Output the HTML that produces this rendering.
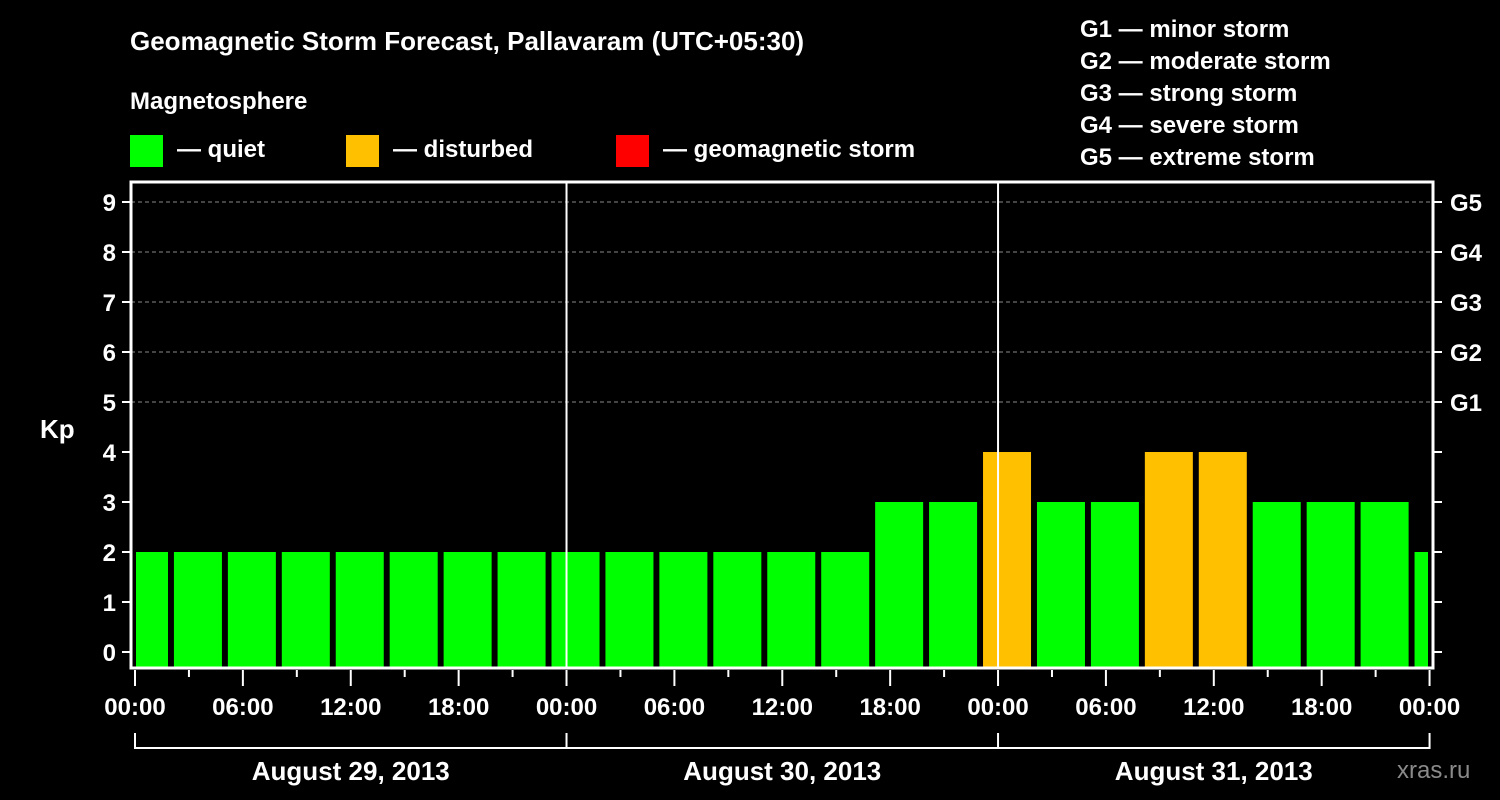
<!DOCTYPE html>
<html><head><meta charset="utf-8"><style>
html,body{margin:0;padding:0;background:#000;width:1500px;height:800px;overflow:hidden}
svg text{font-family:"Liberation Sans",Arial,sans-serif;font-weight:bold;fill:#fff}
</style></head><body>
<svg id="chart" width="1500" height="800" xmlns="http://www.w3.org/2000/svg">
<text x="130" y="50" font-size="26">Geomagnetic Storm Forecast, Pallavaram (UTC+05:30)</text>
<text x="130" y="109" font-size="24">Magnetosphere</text>
<g><rect x="130" y="135" width="33" height="32" fill="#00ff00"/><text x="177" y="157" font-size="24">— quiet</text></g>
<g><rect x="346" y="135" width="33" height="32" fill="#ffc000"/><text x="393" y="157" font-size="24">— disturbed</text></g>
<g><rect x="616" y="135" width="33" height="32" fill="#ff0000"/><text x="663" y="157" font-size="24">— geomagnetic storm</text></g>
<g font-size="24">
<text x="1080" y="37">G1 — minor storm</text>
<text x="1080" y="69">G2 — moderate storm</text>
<text x="1080" y="101">G3 — strong storm</text>
<text x="1080" y="133">G4 — severe storm</text>
<text x="1080" y="165">G5 — extreme storm</text>
</g>
<g id="grid"></g>
<g id="bars"></g>
<g id="axes"></g>
<text x="40" y="438" font-size="26">Kp</text>
<text x="1397" y="778" font-size="24" fill="#888" style="fill:#8a8a8a;font-weight:normal">xras.ru</text>
</svg>
<script>
const kpValues=[2,2,2,2,2,2,2,2,2,2,2,2,2,2,3,3,4,3,3,4,4,3,3,3,2,2];
const tickLabels=["00:00","06:00","12:00","18:00","00:00","06:00","12:00","18:00","00:00","06:00","12:00","18:00","00:00"];
const dayLabels=["August 29, 2013","August 30, 2013","August 31, 2013"];
const gLabels=["G1","G2","G3","G4","G5"];
const NS="http://www.w3.org/2000/svg";
const L=131,R=1433,T=182,B=668;
const x=h=>135+h*17.98;
const y=k=>652-k*50;
function mk(tag,attrs,parent,txt){const e=document.createElementNS(NS,tag);for(const k in attrs)e.setAttribute(k,attrs[k]);if(txt!==undefined)e.textContent=txt;parent.appendChild(e);return e;}
const grid=document.getElementById('grid'),bars=document.getElementById('bars'),axes=document.getElementById('axes');
for(let k=5;k<=9;k++){const l=mk('line',{x1:L,x2:R,y1:y(k),y2:y(k),stroke:'#888','stroke-dasharray':'4,3','stroke-width':1},grid);

}
kpValues.forEach((v,i)=>{const c=0.5+3*i;let x0=x(c-1.335),x1=x(c+1.335);x0=Math.max(x0,L+5);x1=Math.min(x1,R-5);
const col=v>=5?'#ff0000':(v>=4?'#ffc000':'#00ff00');
const r=mk('rect',{x:x0,y:y(v),width:x1-x0,height:B-y(v),fill:col},bars);

});
[1,2].forEach(d=>{const l=mk('line',{x1:x(24*d),x2:x(24*d),y1:T,y2:B,stroke:'#fff','stroke-width':2},axes);

});
const f=mk('rect',{x:L,y:T,width:R-L,height:B-T,fill:'none',stroke:'#fff','stroke-width':3},axes);


for(let k=0;k<=9;k++){mk('line',{x1:122,x2:L,y1:y(k),y2:y(k),stroke:'#fff','stroke-width':2},axes);
mk('line',{x1:R,x2:1442,y1:y(k),y2:y(k),stroke:'#fff','stroke-width':2},axes);
const t=mk('text',{x:116,y:y(k)+9,'font-size':24,'text-anchor':'end'},axes,String(k));

}
gLabels.forEach((g,i)=>{const t=mk('text',{x:1450,y:y(5+i)+9,'font-size':24},axes,g);

});
for(let h=0;h<=72;h+=3){const maj=h%6===0;mk('line',{x1:x(h),x2:x(h),y1:B+2,y2:maj?686:677,stroke:'#fff','stroke-width':2},axes);}
tickLabels.forEach((s,i)=>{const t=mk('text',{x:x(i*6),y:715,'font-size':24,'text-anchor':'middle'},axes,s);

});
mk('line',{x1:x(0),x2:x(72),y1:748,y2:748,stroke:'#fff','stroke-width':2},axes);
for(let d=0;d<=3;d++)mk('line',{x1:x(24*d),x2:x(24*d),y1:733,y2:749,stroke:'#fff','stroke-width':2},axes);
dayLabels.forEach((s,i)=>{const t=mk('text',{x:x(24*i+12),y:780,'font-size':26,'text-anchor':'middle'},axes,s);

});
</script>
</body></html>
